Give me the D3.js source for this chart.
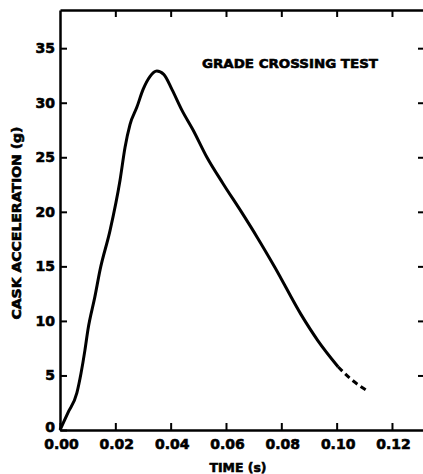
<!DOCTYPE html>
<html>
<head>
<meta charset="utf-8">
<script src="https://cdn.jsdelivr.net/npm/d3@7"></script>
<style>
    body { margin: 0; background: #fff; overflow: hidden; }
    svg { display: block; }
    svg text { font-family: "DejaVu Sans", sans-serif; font-weight: bold; fill: #000; stroke: #000; stroke-width: 0.6px; }
    .axis path, .axis line { stroke: #000; }
</style>
</head>
<body>
<div id="chart"></div>
<script>
// measured curve (solid part)
const timeSolid = [0, 0.0029, 0.0061, 0.0076, 0.009, 0.0101, 0.0126, 0.0145, 0.0181, 0.0217, 0.0235, 0.0253,
    0.0278, 0.030, 0.0325, 0.035, 0.0375, 0.0405, 0.0441, 0.0481, 0.0531, 0.0589, 0.0658, 0.0712, 0.0777,
    0.0871, 0.0932, 0.1005];
const accelSolid = [0, 1.6, 3.4, 5.2, 7.3, 9.2, 12.2, 14.7, 18.3, 22.9, 25.9, 28.0,
    29.6, 31.2, 32.4, 32.9, 32.6, 31.2, 29.3, 27.5, 25.0, 22.6, 19.9, 17.7, 14.9,
    10.6, 8.2, 5.8];
// extrapolated tail (dashed)
const timeDashed = [0.1005, 0.105, 0.1117];
const accelDashed = [5.8, 4.7, 3.5];

const xTicks = [0, 0.02, 0.04, 0.06, 0.08, 0.10, 0.12];
const yTicks = [0, 5, 10, 15, 20, 25, 30, 35];
const xLimit = [0, 0.1323];
const yLimit = [0, 38.5];

const title = "GRADE CROSSING TEST";
const xLabel = "TIME (s)";
const yLabel = "CASK ACCELERATION (g)";

const W = 423, H = 474;
const margin = { top: 10, right: -3, bottom: 44, left: 60 };
const width = W - margin.left - margin.right;
const height = H - margin.top - margin.bottom;

const svg = d3.select("#chart")
    .append("svg")
    .attr("width", W)
    .attr("height", H)
    .append("g")
    .attr("transform", `translate(${margin.left},${margin.top})`);

const x = d3.scaleLinear().domain(xLimit).range([0, width]);
const y = d3.scaleLinear().domain(yLimit).range([height, 0]);

// frame: top edge and right-side ticks (right edge itself is cut off)
const gTop = svg.append("g").attr("class", "axis")
    .call(d3.axisTop(x).tickValues(xTicks.slice(1)).tickSize(-7).tickSizeOuter(0).tickFormat(""));
const gRight = svg.append("g").attr("class", "axis")
    .attr("transform", `translate(${width},0)`)
    .call(d3.axisRight(y).tickValues(yTicks.slice(1)).tickSize(-8).tickFormat(""));
gRight.select(".domain").remove();

// bottom axis
const gBottom = svg.append("g").attr("class", "axis")
    .attr("transform", `translate(0,${height})`)
    .call(d3.axisBottom(x).tickValues(xTicks).tickSize(-7).tickSizeOuter(0).tickPadding(9)
        .tickFormat(d3.format(".2f")));

// left axis
const gLeft = svg.append("g").attr("class", "axis")
    .call(d3.axisLeft(y).tickValues(yTicks).tickSize(-7).tickSizeOuter(0).tickPadding(5)
        .tickFormat(d3.format("d")));

[gTop, gRight, gBottom, gLeft].forEach(g => {
    g.select(".domain").attr("stroke-width", 2.5);
    g.selectAll(".tick line").attr("stroke-width", 2);
    g.selectAll("text").attr("font-size", 14).attr("fill", "#000");
});
gBottom.selectAll(".tick text").attr("dx", 1);
gLeft.selectAll(".tick text").filter(d => d === 0).attr("dy", "0.1em");

// curve
const line = d3.line()
    .x(d => x(d[0]))
    .y(d => y(d[1]))
    .curve(d3.curveMonotoneX);

svg.append("path")
    .datum(d3.zip(timeSolid, accelSolid))
    .attr("fill", "none")
    .attr("stroke", "#000")
    .attr("stroke-width", 3)
    .attr("stroke-linejoin", "round")
    .attr("d", line);

svg.append("path")
    .datum(d3.zip(timeDashed, accelDashed))
    .attr("fill", "none")
    .attr("stroke", "#000")
    .attr("stroke-width", 3)
    .attr("stroke-dasharray", "6,4")
    .attr("d", line);

// title inside the plot
svg.append("text")
    .attr("x", 202 - margin.left)
    .attr("y", 68 - margin.top)
    .attr("font-size", 13)
    .attr("textLength", 176)
    .attr("lengthAdjust", "spacingAndGlyphs")
    .text(title);

// axis labels
svg.append("text")
    .attr("text-anchor", "middle")
    .attr("x", 238 - margin.left)
    .attr("y", 472 - margin.top)
    .attr("font-size", 13)
    .attr("textLength", 57)
    .attr("lengthAdjust", "spacingAndGlyphs")
    .text(xLabel);

svg.append("text")
    .attr("text-anchor", "middle")
    .attr("transform", `translate(${21 - margin.left},${223 - margin.top}) rotate(-90)`)
    .attr("font-size", 13)
    .attr("textLength", 193)
    .attr("lengthAdjust", "spacingAndGlyphs")
    .text(yLabel);
</script>
</body>
</html>
